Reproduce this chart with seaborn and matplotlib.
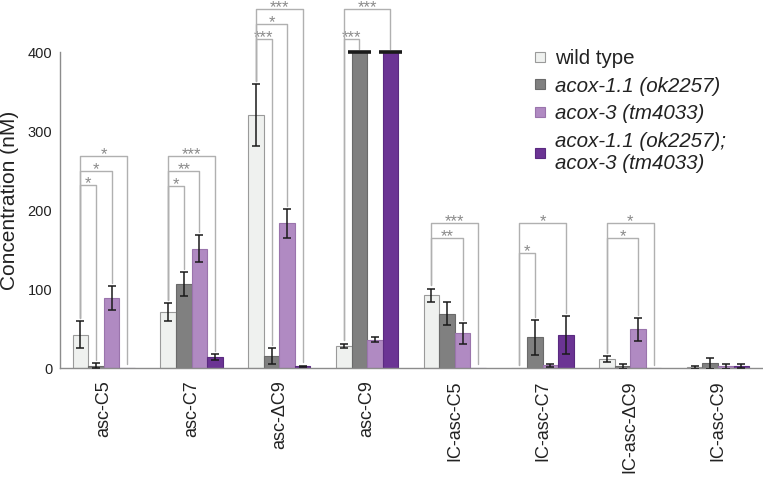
import matplotlib
matplotlib.use('Agg')
import matplotlib.pyplot as plt
from matplotlib.lines import Line2D
import numpy as np
import pandas as pd
import seaborn as sns

# 数据
compounds = ['asc-C5', 'asc-C7', 'asc-ΔC9', 'asc-C9',
             'IC-asc-C5', 'IC-asc-C7', 'IC-asc-ΔC9', 'IC-asc-C9']
strains = ['wild type', 'acox-1.1 (ok2257)', 'acox-3 (tm4033)',
           'acox-1.1 (ok2257);\nacox-3 (tm4033)']

wild_type = [42, 71, 320, 28, 92, 0, 11, 1]
wild_type_err = [17, 11, 39, 3, 8.5, 0, 4, 2]
acox11 = [3, 106, 15, 400, 69, 39, 2, 6]
acox11_err = [3, 15, 10, 0, 15, 22, 3, 7]
acox3 = [89, 151, 183, 36, 44, 3.5, 49, 2]
acox3_err = [15, 17, 18, 3, 13, 2, 14.5, 3]
double = [0.5, 14, 2, 400, 0.5, 42, 0, 3]
double_err = [0, 4, 1, 0, 0, 24, 0, 2.5]

y_cap = 400  # 超出范围的柱子被截断在 400

# 显著性标记: (化合物序号, 比较对象序号, 括号高度, 星号)
sig_group = [0, 0, 0, 1, 1, 1, 2, 2, 2, 3, 3, 4, 4, 5, 5, 6, 6]
sig_target = [1, 2, 3, 1, 2, 3, 1, 2, 3, 1, 3, 2, 3, 1, 3, 2, 3]
sig_level = [232, 250, 269, 231, 249, 268, 417, 436, 454, 417, 454,
             165, 184, 146, 183, 164, 183]
sig_stars = ['*', '*', '*', '*', '**', '***', '***', '*', '***', '***', '***',
             '**', '***', '*', '*', '*', '*']

colors = ['#eff1ef', '#808080', '#b08ac2', '#6b3494']
edges = ['#9a9a9a', '#6a6a6a', '#9a74ac', '#5a2a80']

values = [wild_type, acox11, acox3, double]
errors = [wild_type_err, acox11_err, acox3_err, double_err]

df = pd.DataFrame({
    'compound': np.tile(compounds, len(strains)),
    'strain': np.repeat(strains, len(compounds)),
    'value': np.concatenate(values),
})

sns.set_style('white')
plt.rcParams['font.family'] = ['Liberation Sans', 'DejaVu Sans']

fig = plt.figure(figsize=(7.63, 4.78), dpi=100)
ax = fig.add_axes([0.0786, 0.2301, 0.9200, 0.7685])

sns.barplot(data=df, x='compound', y='value', hue='strain',
            order=compounds, hue_order=strains, palette=colors,
            saturation=1, errorbar=None, width=0.71, legend=False, ax=ax)
bar_conts = list(ax.containers)

# 柱子边框 + 误差线
for i, cont in enumerate(bar_conts):
    for j, bar in enumerate(cont):
        bar.set_edgecolor(edges[i])
        bar.set_linewidth(0.8)
        cx = bar.get_x() + bar.get_width() / 2
        if values[i][j] >= y_cap:
            ax.hlines(y_cap, bar.get_x() - 0.04, bar.get_x() + bar.get_width() + 0.04,
                      color='#1a1a1a', lw=2.6, zorder=5)
        elif errors[i][j] > 0:
            ax.errorbar(cx, values[i][j], yerr=errors[i][j], fmt='none',
                        ecolor='#1a1a1a', elinewidth=1.1, capsize=3.2,
                        capthick=1.1, zorder=4)

def bar_top(i, j):
    v = values[i][j]
    if v >= y_cap:
        return y_cap
    return v + errors[i][j]

# 显著性括号
gap = 4
for g, t, lev, s in zip(sig_group, sig_target, sig_level, sig_stars):
    b0 = bar_conts[0][g]
    b1 = bar_conts[t][g]
    x0 = b0.get_x() + b0.get_width() / 2
    x1 = b1.get_x() + b1.get_width() / 2
    y0 = bar_top(0, g) + gap
    y1 = bar_top(t, g) + gap
    ax.plot([x0, x0, x1, x1], [y0, lev, lev, y1], color='#b0b0b0', lw=1.0,
            clip_on=False, zorder=3)
    ax.text((x0 + x1) / 2, lev - 4, s, ha='center', va='baseline',
            fontsize=12, color='#8a8a8a')

# 坐标轴
ax.set_xlim(-0.5, len(compounds) - 0.5)
ax.set_ylim(0, 465)
ax.set_yticks([0, 100, 200, 300, 400])
ax.spines['left'].set_bounds(0, 400)
for side in ['top', 'right']:
    ax.spines[side].set_visible(False)
for side in ['left', 'bottom']:
    ax.spines[side].set_color('#8c8c8c')
    ax.spines[side].set_linewidth(1.0)

ax.set_xticks(range(len(compounds)))
ax.set_xticklabels(compounds, rotation=90, fontsize=13, color='#222222')
ax.set_xticks(np.arange(-0.5, len(compounds)), minor=True)
ax.tick_params(axis='x', which='major', length=0, pad=9)
ax.tick_params(axis='x', which='minor', length=5, color='#8c8c8c', width=1.0,
               direction='out')
ax.tick_params(axis='y', length=4, color='#8c8c8c', width=1.0, direction='out',
               labelsize=10.5, labelcolor='#222222', pad=1.5)

ax.set_xlabel('')
ax.set_ylabel('Concentration (nM)', fontsize=15, color='#222222')
ax.yaxis.set_label_coords(-0.058, 0.455)

# 图例
handles = [Line2D([], [], marker='s', linestyle='none', markersize=7.5,
                  markerfacecolor=c, markeredgecolor=e, markeredgewidth=0.8)
           for c, e in zip(colors, edges)]
leg = fig.legend(handles, strains, loc='upper left',
                 bbox_to_anchor=(533 / 763, 1 - 49 / 478),
                 frameon=False, fontsize=14.8, handlelength=0.7,
                 handletextpad=0.35, labelspacing=0.42, borderpad=0,
                 borderaxespad=0)
for k, txt in enumerate(leg.get_texts()):
    txt.set_color('#222222')
    if k > 0:
        txt.set_fontstyle('italic')

fig.savefig('out.png', dpi=100)
